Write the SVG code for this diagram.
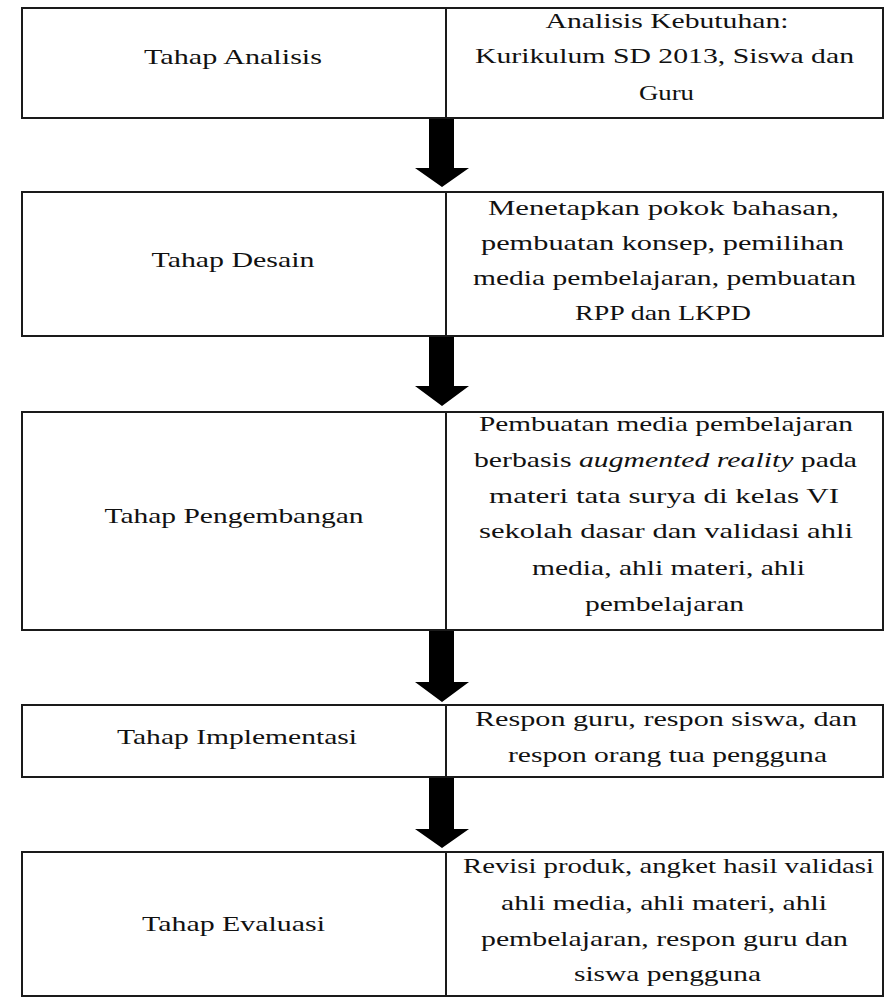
<svg xmlns="http://www.w3.org/2000/svg" width="892" height="998" viewBox="0 0 892 998">
<style>
.box{fill:#fff;stroke:#1a1a1a;stroke-width:2}
.div{stroke:#1a1a1a;stroke-width:2}
.t{font-family:"Liberation Serif","Times New Roman",serif;font-size:21px;fill:#111;text-anchor:middle}
.it{font-style:italic}
.arr{fill:#000}
</style>
<rect width="892" height="998" fill="#fff"/>
<g id="connectors">
<polygon class="arr" points="429,118 454,118 454,168 469,168 442,187 415,168 429,168"/>
<polygon class="arr" points="429,337 454,337 454,386 469,386 442,406 415,386 429,386"/>
<polygon class="arr" points="429,631 454,631 454,682 469,682 442,702 415,682 429,682"/>
<polygon class="arr" points="429,778 454,778 454,829 469,829 442,848 415,829 429,829"/>
</g>
<g id="analisis">
<rect class="box" x="22" y="8" width="861" height="110"/>
<line class="div" x1="446" y1="8" x2="446" y2="118"/>
<text class="t" x="233" y="64" textLength="178" lengthAdjust="spacingAndGlyphs">Tahap Analisis</text>
<text class="t" x="667" y="28" textLength="243" lengthAdjust="spacingAndGlyphs">Analisis Kebutuhan:</text>
<text class="t" x="664.5" y="63" textLength="379" lengthAdjust="spacingAndGlyphs">Kurikulum SD 2013, Siswa dan</text>
<text class="t" x="666.5" y="100" textLength="55" lengthAdjust="spacingAndGlyphs">Guru</text>
</g>
<g id="desain">
<rect class="box" x="22" y="192" width="861" height="144"/>
<line class="div" x1="446" y1="192" x2="446" y2="336"/>
<text class="t" x="233" y="267" textLength="163" lengthAdjust="spacingAndGlyphs">Tahap Desain</text>
<text class="t" x="663.5" y="215" textLength="351" lengthAdjust="spacingAndGlyphs">Menetapkan pokok bahasan,</text>
<text class="t" x="662.5" y="250" textLength="363" lengthAdjust="spacingAndGlyphs">pembuatan konsep, pemilihan</text>
<text class="t" x="664.5" y="285" textLength="383" lengthAdjust="spacingAndGlyphs">media pembelajaran, pembuatan</text>
<text class="t" x="663" y="320" textLength="176" lengthAdjust="spacingAndGlyphs">RPP dan LKPD</text>
</g>
<g id="pengembangan">
<rect class="box" x="22" y="412" width="861" height="218"/>
<line class="div" x1="446" y1="412" x2="446" y2="630"/>
<text class="t" x="234" y="523" textLength="259" lengthAdjust="spacingAndGlyphs">Tahap Pengembangan</text>
<text class="t" x="666" y="431" textLength="374" lengthAdjust="spacingAndGlyphs">Pembuatan media pembelajaran</text>
<text class="t" x="665.5" y="467" textLength="383" lengthAdjust="spacingAndGlyphs">berbasis <tspan class="it">augmented reality</tspan> pada</text>
<text class="t" x="664" y="503" textLength="350" lengthAdjust="spacingAndGlyphs">materi tata surya di kelas VI</text>
<text class="t" x="666" y="538" textLength="374" lengthAdjust="spacingAndGlyphs">sekolah dasar dan validasi ahli</text>
<text class="t" x="668.5" y="575" textLength="273" lengthAdjust="spacingAndGlyphs">media, ahli materi, ahli</text>
<text class="t" x="664.5" y="611" textLength="159" lengthAdjust="spacingAndGlyphs">pembelajaran</text>
</g>
<g id="implementasi">
<rect class="box" x="22" y="705" width="861" height="72"/>
<line class="div" x1="446" y1="705" x2="446" y2="777"/>
<text class="t" x="237" y="744" textLength="240" lengthAdjust="spacingAndGlyphs">Tahap Implementasi</text>
<text class="t" x="666" y="726" textLength="382" lengthAdjust="spacingAndGlyphs">Respon guru, respon siswa, dan</text>
<text class="t" x="667.5" y="762" textLength="319" lengthAdjust="spacingAndGlyphs">respon orang tua pengguna</text>
</g>
<g id="evaluasi">
<rect class="box" x="22" y="852" width="861" height="144"/>
<line class="div" x1="446" y1="852" x2="446" y2="996"/>
<text class="t" x="233.5" y="931" textLength="183" lengthAdjust="spacingAndGlyphs">Tahap Evaluasi</text>
<text class="t" x="668.5" y="873" textLength="411" lengthAdjust="spacingAndGlyphs">Revisi produk, angket hasil validasi</text>
<text class="t" x="664" y="910" textLength="326" lengthAdjust="spacingAndGlyphs">ahli media, ahli materi, ahli</text>
<text class="t" x="664.5" y="946" textLength="367" lengthAdjust="spacingAndGlyphs">pembelajaran, respon guru dan</text>
<text class="t" x="667.5" y="981" textLength="187" lengthAdjust="spacingAndGlyphs">siswa pengguna</text>
</g>
</svg>
